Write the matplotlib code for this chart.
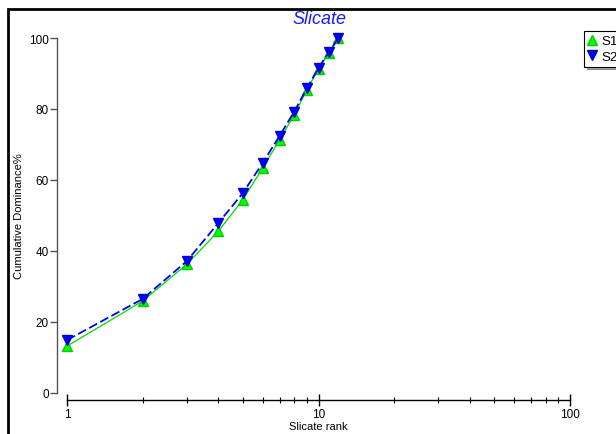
import matplotlib
matplotlib.use("Agg")
import matplotlib.pyplot as plt
from matplotlib.lines import Line2D
from matplotlib.patches import Rectangle

plt.rcParams["font.family"] = ["Liberation Sans", "DejaVu Sans"]

rank = [1, 2, 3, 4, 5, 6, 7, 8, 9, 10, 11, 12]
s1 = [13.2, 25.9, 36.3, 45.6, 54.4, 63.4, 71.3, 78.3, 85.4, 91.3, 95.8, 100]
s2 = [14.9, 26.5, 37.2, 47.9, 56.3, 64.8, 72.4, 79.2, 85.9, 91.6, 96.0, 100]
yticks = [0, 20, 40, 60, 80, 100]
xticks = [1, 10, 100]

W, H = 616, 435
fig = plt.figure(figsize=(W / 100, H / 100), dpi=100)
ax = fig.add_axes([67 / W, 1 - 394 / H, (570 - 67) / W, (394 - 39) / H])

ax.plot(rank, s1, color="#00dd00", lw=0.9, marker="^", ms=7,
        mfc="#00ff00", mec="#00cc00", clip_on=False, zorder=3)
ax.plot(rank, s2, color="#0000ee", lw=1.3, ls=(0, (5, 2)), marker="v", ms=7,
        mfc="#0000ff", mec="#0000cc", clip_on=False, zorder=4)

ax.set_xscale("log")
ax.set_xlim(1, 100)
ax.set_ylim(0, 100)
ax.set_xticks(xticks)
ax.set_xticklabels([str(t) for t in xticks])
ax.set_yticks(yticks)

for s in ("top", "right"):
    ax.spines[s].set_visible(False)
ax.spines["left"].set_position(("outward", 7))
ax.spines["left"].set_color("#555555")
ax.spines["bottom"].set_position(("outward", 5))
ax.spines["left"].set_linewidth(1.0)
ax.spines["bottom"].set_linewidth(1.0)

ax.tick_params(axis="y", direction="out", length=5, width=1.0,
               color="#555555", labelsize=8.5, pad=1)
ax.tick_params(axis="x", which="major", direction="inout", length=9,
               width=1.0, labelsize=8.5, pad=1)
ax.tick_params(axis="x", which="minor", direction="inout", length=5, width=0.8)

ax.set_xlabel("Slicate rank", fontsize=8, labelpad=1)
ax.set_ylabel("Cumulative Dominance%", fontsize=8, labelpad=4)
fig.text(319 / W, 1 - 19 / H, "Slicate", color="#1a1aff", style="italic",
         fontsize=13, ha="center", va="center")

handles = [Line2D([], [], ls="none", marker="^", ms=6.5, mfc="#00ff00",
                  mec="#00cc00", label="S1"),
           Line2D([], [], ls="none", marker="v", ms=6.5, mfc="#0000ff",
                  mec="#0000cc", label="S2")]
leg = fig.legend(handles=handles, loc="upper left",
                 bbox_to_anchor=(584 / W, 1 - 32 / H), fontsize=9.5,
                 frameon=True, fancybox=False, shadow=True, handlelength=0.6,
                 handletextpad=0.4, borderpad=0.3, labelspacing=0.25,
                 borderaxespad=0)
leg.get_frame().set_edgecolor("black")
leg.get_frame().set_linewidth(0.8)

fig.add_artist(Rectangle((8 / W, -0.05), 1.2, 1 - 10 / H + 0.05,
                         transform=fig.transFigure, fill=False,
                         lw=2, edgecolor="black"))

fig.savefig("out.png", dpi=100)
